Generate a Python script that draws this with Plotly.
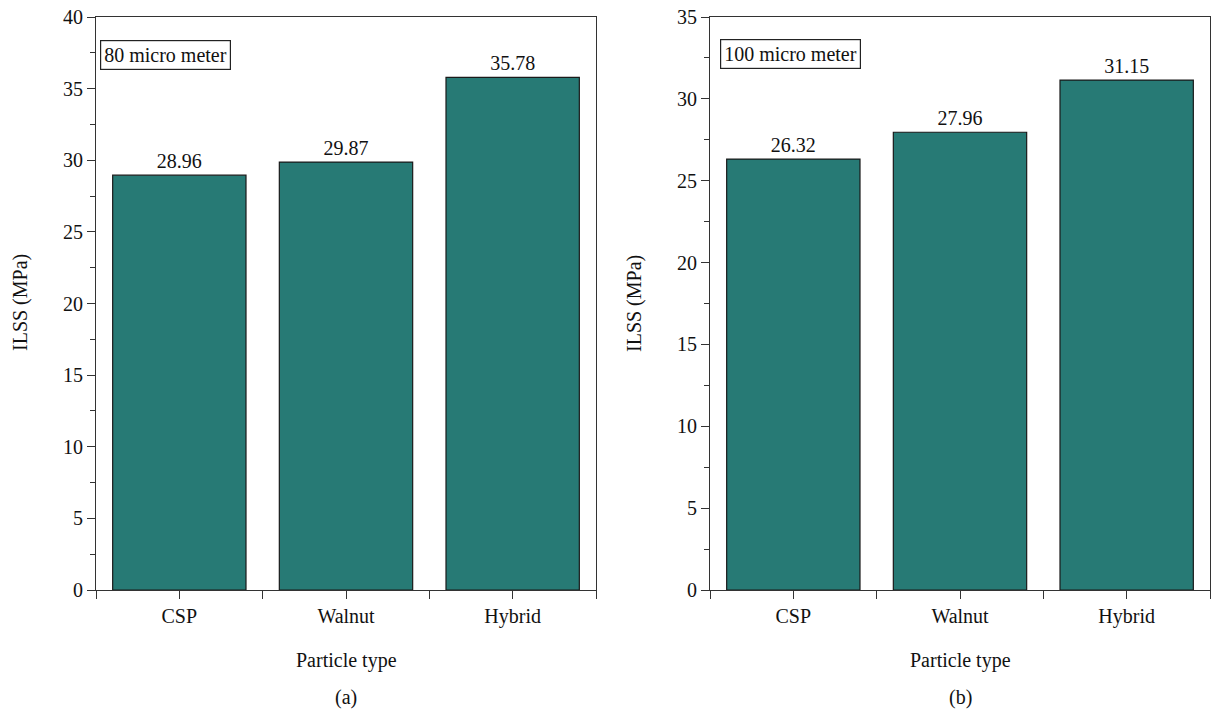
import plotly.graph_objects as go

categories = ["CSP", "Walnut", "Hybrid"]
ilss_80 = [28.96, 29.87, 35.78]
ilss_100 = [26.32, 27.96, 31.15]
labels_80 = ["28.96", "29.87", "35.78"]
labels_100 = ["26.32", "27.96", "31.15"]

W, H = 1211, 709
FONT = "Liberation Serif"
FS = 20
BAR = "#277a75"
AX = "#333333"

def fx(px):
    return px / W

def fy(py):
    return (H - py) / H

fig = go.Figure()
xs = list(range(len(categories)))
fig.add_trace(go.Bar(x=xs, y=ilss_80, width=0.8, marker=dict(color=BAR, line=dict(color="#1a1a1a", width=1.2)),
                     text=labels_80, textposition="outside", textfont=dict(family=FONT, size=FS, color="#111"),
                     cliponaxis=False, xaxis="x", yaxis="y", showlegend=False, hoverinfo="skip"))
fig.add_trace(go.Bar(x=xs, y=ilss_100, width=0.8, marker=dict(color=BAR, line=dict(color="#1a1a1a", width=1.2)),
                     text=labels_100, textposition="outside", textfont=dict(family=FONT, size=FS, color="#111"),
                     cliponaxis=False, xaxis="x2", yaxis="y2", showlegend=False, hoverinfo="skip"))

def xaxis(domain, anchor):
    return dict(domain=domain, anchor=anchor, range=[-0.5, 2.5], tickvals=xs, ticktext=categories,
                ticks="outside", ticklen=8, tickwidth=1.2, tickcolor=AX, showline=True, linecolor=AX,
                linewidth=1.2, mirror=True, showgrid=False, zeroline=False, automargin=False,
                tickfont=dict(family=FONT, size=FS, color="#111"),
                minor=dict(tickvals=[-0.5, 0.5, 1.5, 2.5], ticks="outside", ticklen=8, tickwidth=1.2, tickcolor=AX))

def yaxis(domain, anchor, top):
    return dict(domain=domain, anchor=anchor, range=[0, top], dtick=5, ticks="outside", ticklen=8,
                tickwidth=1.2, tickcolor=AX, showline=True, linecolor=AX, linewidth=1.2, mirror=True,
                showgrid=False, zeroline=False, automargin=False, tickfont=dict(family=FONT, size=FS, color="#111"),
                minor=dict(dtick=2.5, ticks="outside", ticklen=5, tickwidth=1.2, tickcolor=AX))

ydom = [fy(590), fy(17)]
fig.update_layout(
    width=W, height=H, margin=dict(l=0, r=0, t=0, b=0, autoexpand=False), plot_bgcolor="white",
    paper_bgcolor="white", bargap=0.2,
    xaxis=xaxis([fx(96), fx(596)], "y"),
    yaxis=yaxis(ydom, "x", 40),
    xaxis2=xaxis([fx(710), fx(1210)], "y2"),
    yaxis2=yaxis(ydom, "x2", 35),
)

ann_font = dict(family=FONT, size=FS, color="#111")
anns = [
    dict(text="80 micro meter", x=fx(100), y=fy(55), xanchor="left", yanchor="middle", bordercolor="#222",
         borderwidth=1.2, borderpad=3, bgcolor="white"),
    dict(text="100 micro meter", x=fx(720), y=fy(54), xanchor="left", yanchor="middle", bordercolor="#222",
         borderwidth=1.2, borderpad=3, bgcolor="white"),
    dict(text="Particle type", x=fx(346), y=fy(660), xanchor="center", yanchor="middle"),
    dict(text="Particle type", x=fx(960), y=fy(660), xanchor="center", yanchor="middle"),
    dict(text="(a)", x=fx(346), y=fy(697), xanchor="center", yanchor="middle"),
    dict(text="(b)", x=fx(960), y=fy(697), xanchor="center", yanchor="middle"),
    dict(text="ILSS (MPa)", x=fx(20), y=fy(303), xanchor="center", yanchor="middle", textangle=-90),
    dict(text="ILSS (MPa)", x=fx(634), y=fy(303), xanchor="center", yanchor="middle", textangle=-90),
]
for a in anns:
    a.update(xref="paper", yref="paper", showarrow=False, font=ann_font)
fig.update_layout(annotations=anns)

fig.write_html("out.html", config={"displayModeBar": False},
               post_script="document.body.style.margin='0';document.body.style.overflow='hidden';")
